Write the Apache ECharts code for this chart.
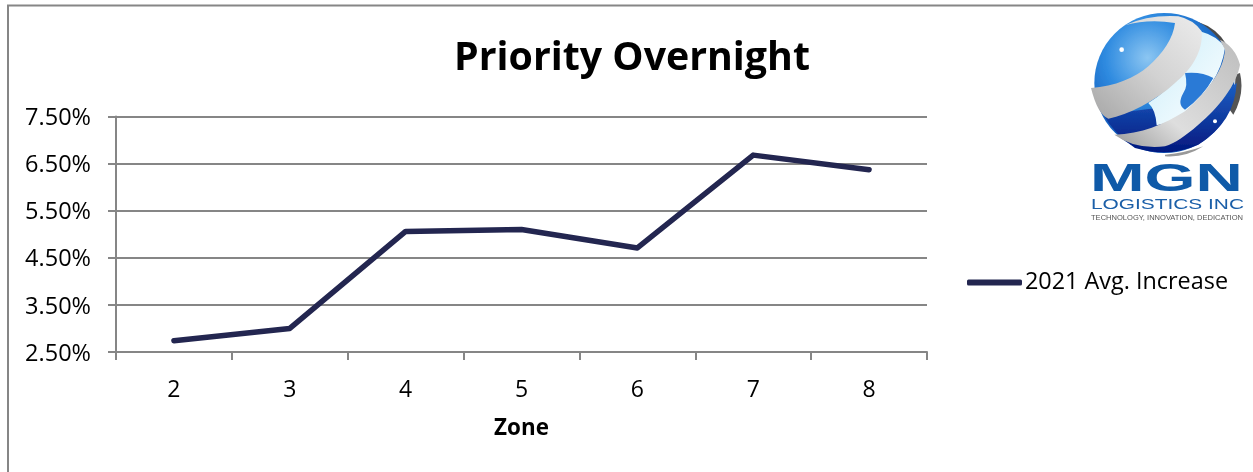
<!DOCTYPE html>
<html><head><meta charset="utf-8">
<style>html,body{margin:0;padding:0;background:#fff}#c{width:1253px;height:472px}</style>
<script src="https://cdn.jsdelivr.net/npm/echarts@6/dist/echarts.min.js"></script>
</head><body><div id="c"></div>
<script>
const zones = ['2','3','4','5','6','7','8'];
const increase2021 = [2.74, 3.0, 5.06, 5.10, 4.71, 6.68, 6.37];
const yTicks = [2.5, 3.5, 4.5, 5.5, 6.5, 7.5];
const FONT = '"Open Sans"';
const GREY = '#868686';
const logoSvg = `<svg xmlns="http://www.w3.org/2000/svg" width="495" height="465" viewBox="0 0 495 465">
<defs>
<radialGradient id="g" cx="0.38" cy="0.32" r="0.6"><stop offset="0" stop-color="#8cc6f2"/><stop offset="0.5" stop-color="#2f8be0"/><stop offset="1" stop-color="#0f56b8"/></radialGradient>
<linearGradient id="d" x1="0" y1="0" x2="0" y2="1"><stop offset="0" stop-color="#1b5fc4"/><stop offset="1" stop-color="#04187e"/></linearGradient>
<linearGradient id="c" x1="0" y1="0" x2="1" y2="1"><stop offset="0" stop-color="#c9edfa"/><stop offset="1" stop-color="#ffffff"/></linearGradient>
<linearGradient id="b" x1="1" y1="0" x2="0" y2="1"><stop offset="0" stop-color="#ececec"/><stop offset="0.5" stop-color="#d2d2d2"/><stop offset="1" stop-color="#a6a6a6"/></linearGradient>
<linearGradient id="b2" x1="0" y1="1" x2="1" y2="0"><stop offset="0" stop-color="#9a9a9a"/><stop offset="0.35" stop-color="#dedede"/><stop offset="1" stop-color="#bdbdbd"/></linearGradient>
<filter id="f"><feGaussianBlur stdDeviation="2"/></filter></defs>
<g filter="url(#f)">
<path d="M340 42 Q395 60 425 110 L400 100 Q370 70 340 60Z" fill="#4a4a4a"/>
<path d="M465 195 Q480 260 445 320 L430 300 Q455 250 450 200Z" fill="#555"/>
<circle cx="238" cy="225" r="210" fill="url(#g)"/>
<path d="M55 320 L215 300 L300 330 L455 225 Q450 340 340 410 Q250 450 150 420 Q90 380 55 320Z" fill="url(#d)"/>
<path d="M345 70 Q400 85 420 120 Q405 230 290 320 Q250 345 215 352 Q212 305 190 285 Q300 220 345 70Z" fill="url(#c)"/>
<path d="M300 195 Q350 190 385 210 Q355 265 300 305 Q275 290 295 255 Q310 235 300 195Z" fill="#2a7ad6"/>
<circle cx="110" cy="125" r="7" fill="#fff"/><circle cx="390" cy="340" r="6" fill="#fff"/>
<path d="M120 52 Q190 20 280 25 Q325 35 350 70 C355 130 320 185 270 225 C210 280 130 320 70 332 Q38 320 18 240 C90 235 150 210 190 175 C235 135 265 90 270 45 Q190 32 120 52Z" fill="url(#b)"/>
<path d="M88 380 C170 378 235 350 300 310 C370 245 415 190 420 125 L405 95 Q450 115 465 170 C455 230 400 300 340 350 C300 385 270 405 240 415 Q150 425 88 380Z" fill="url(#b2)"/>
<path d="M240 440 Q300 435 355 415 Q300 450 240 445Z" fill="#999"/>
</g></svg>`;
const chart = echarts.init(document.getElementById('c'));
chart.setOption({
  animation: false,
  backgroundColor: '#fff',
  title: { text: 'Priority Overnight', left: 627, top: 34, textAlign: 'center',
    textStyle: { fontFamily: FONT, fontSize: 39.3, fontWeight: 'bold', color: '#000' } },
  legend: { left: 962, top: 266, icon: 'roundRect', itemWidth: 55, itemHeight: 6, itemGap: 0,
    textStyle: { fontFamily: FONT, fontSize: 23.4, color: '#000', padding: [0,0,0,-2] } },
  grid: { left: 116, right: 326, top: 116.5, bottom: 120, containLabel: false },
  xAxis: { type: 'category', data: zones, boundaryGap: true, name: 'Zone', nameLocation: 'middle', nameGap: 66,
    nameTextStyle: { fontFamily: FONT, fontSize: 22.4, fontWeight: 'bold', color: '#000' },
    axisLine: { lineStyle: { color: GREY, width: 2 } },
    axisTick: { show: true, length: 8, lineStyle: { color: GREY, width: 2 } },
    axisLabel: { fontFamily: FONT, fontSize: 23, color: '#000', margin: 27 } },
  yAxis: { type: 'value', min: yTicks[0], max: yTicks[yTicks.length-1],
    axisLine: { show: true, lineStyle: { color: GREY, width: 2 } },
    axisTick: { show: true, length: 8, customValues: yTicks, lineStyle: { color: GREY, width: 2 } },
    splitLine: { show: true, lineStyle: { color: GREY, width: 2 } },
    axisLabel: { customValues: yTicks, fontFamily: FONT, fontSize: 23.5, color: '#000', margin: 25, verticalAlign: 'top', lineHeight: 24, padding: [-10,0,0,0], formatter: v => v.toFixed(2) + '%' } },
  series: [{ name: '2021 Avg. Increase', type: 'line', data: increase2021, symbol: 'none',
    lineStyle: { color: '#232650', width: 5.5, cap: 'round', join: 'round' }, itemStyle: { color: '#232650' } }],
  graphic: [
    { type: 'polyline', shape: { points: [[8,472],[8,5.5],[1253,5.5]] }, style: { stroke: GREY, lineWidth: 2, fill: null } },
    { type: 'image', x: 1085, y: 8, style: { image: 'data:image/svg+xml;charset=utf-8,' + encodeURIComponent(logoSvg), width: 165, height: 155 } },
    { type: 'text', x: 1090, y: 161, scaleX: 1.68, style: { text: 'MGN', font: 'bold 39px "Liberation Sans"', fill: '#0f5aa8' } },
    { type: 'text', x: 1091, y: 198, scaleX: 1.49, style: { text: 'LOGISTICS INC', font: '14px "Liberation Sans"', fill: '#1b5fa8' } },
    { type: 'text', x: 1091, y: 214.5, scaleX: 1.11, style: { text: 'TECHNOLOGY, INNOVATION, DEDICATION', font: '6.8px "Liberation Sans"', fill: '#555' } }
  ]
});
</script></body></html>
